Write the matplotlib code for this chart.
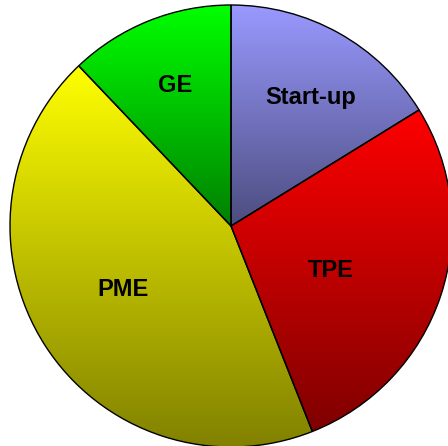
import numpy as np
import matplotlib
matplotlib.use('Agg')
import matplotlib.pyplot as plt
from matplotlib.colors import to_rgb

# Data (shares in %)
labels = ['Start-up', 'TPE', 'PME', 'GE']
shares = [16.2, 27.8, 43.9, 12.1]
top_colors = ['#9999ff', '#ff0000', '#ffff00', '#00ff00']

# label placement: distance from centre (fraction of radius), angle offset (deg)
label_dist = [0.659, 0.505, 0.583, 0.657]
label_rot = [-4.0, -8.6, 0.3, 0.8]

W, H = 448, 446
fig = plt.figure(figsize=(W / 100, H / 100), dpi=100, facecolor='white')
ax = fig.add_axes([0, 0, 1, 1])

cx, cy, r = 231, H - 226, 221

wedges, _ = ax.pie(shares, startangle=90, counterclock=False,
                   center=(cx, cy), radius=r, frame=True,
                   wedgeprops=dict(facecolor='none', edgecolor='black', linewidth=1.0))

# vertical gradient fill for every wedge: full colour at top -> half at bottom
for w, col in zip(wedges, top_colors):
    verts = w.get_path().vertices
    ymin, ymax = verts[:, 1].min(), verts[:, 1].max()
    xmin, xmax = verts[:, 0].min(), verts[:, 0].max()
    c = np.array(to_rgb(col))
    t = np.linspace(0, 1, 256)[:, None]
    grad = c[None, :] * (1 - 0.5 * t)
    im = ax.imshow(grad[:, None, :], extent=(xmin, xmax, ymin, ymax), origin='upper',
                   aspect='auto', zorder=0.5, interpolation='bilinear')
    im.set_clip_path(w)

ax.set_xlim(0, W)
ax.set_ylim(0, H)
ax.set_aspect('equal')
ax.axis('off')

for w, lab, d, off in zip(wedges, labels, label_dist, label_rot):
    mid = np.deg2rad((w.theta1 + w.theta2) / 2 + off)
    ax.text(cx + d * r * np.cos(mid), cy + d * r * np.sin(mid), lab,
            ha='center', va='baseline', fontsize=17, fontweight='bold',
            family='Liberation Sans', color='black', zorder=3)

plt.savefig('out.png', dpi=100, facecolor='white')
plt.close()
